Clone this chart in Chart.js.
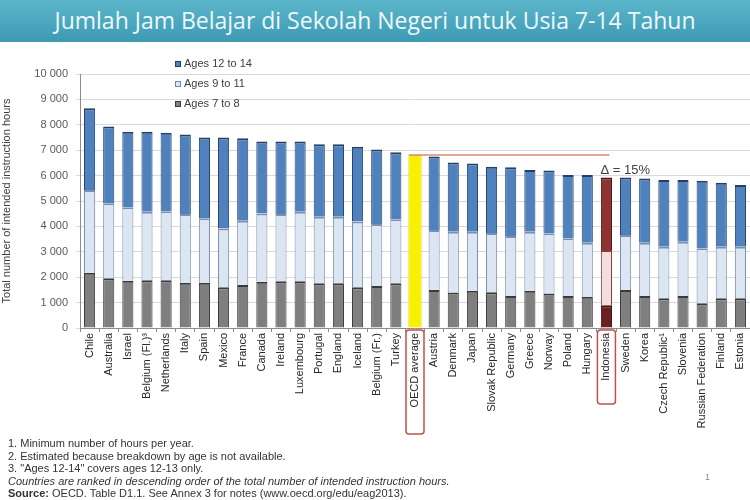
<!DOCTYPE html>
<html>
<head>
<meta charset="utf-8">
<script src="https://cdn.jsdelivr.net/npm/chart.js@4"></script>
<style>
  body { margin: 0; background: #fff; }
  #wrap { position: relative; width: 750px; height: 500px; overflow: hidden; }
  #banner {
    position: absolute; left: 0; top: 0; width: 750px; height: 42px; z-index: 2;
    background: linear-gradient(#5cb6cb, #3d9ab3);
    color: #eef8fb; font-family: "Open Sans", sans-serif; font-size: 23px;
    line-height: 40px; text-align: center; white-space: nowrap;
  }
  #chart { position: absolute; left: 0; top: 0; }
  #notes {
    position: absolute; left: 8px; top: 437px; z-index: 2;
    font-family: "Liberation Sans", Arial, sans-serif; font-size: 11px;
    line-height: 12.5px; color: #333; white-space: nowrap;
  }
  #notes i { font-style: italic; }
  #page { position: absolute; left: 705px; top: 472px; font: 9px "Liberation Sans", sans-serif; color: #888; }
</style>
</head>
<body>
<div id="wrap">
  <div id="banner">Jumlah Jam Belajar di Sekolah Negeri untuk Usia 7-14 Tahun</div>
  <canvas id="chart" width="750" height="500"></canvas>
  <div id="notes">
    1. Minimum number of hours per year.<br>
    2. Estimated because breakdown by age is not available.<br>
    3. "Ages 12-14" covers ages 12-13 only.<br>
    <i>Countries are ranked in descending order of the total number of intended instruction hours.</i><br>
    <b>Source:</b> OECD. Table D1.1. See Annex 3 for notes (www.oecd.org/edu/eag2013).
  </div>
  <div id="page">1</div>
</div>
<script>
const countries = ["Chile", "Australia", "Israel", "Belgium (Fl.)³", "Netherlands", "Italy", "Spain", "Mexico",
  "France", "Canada", "Ireland", "Luxembourg", "Portugal", "England", "Iceland", "Belgium (Fr.)", "Turkey",
  "OECD average", "Austria", "Denmark", "Japan", "Slovak Republic", "Germany", "Greece", "Norway", "Poland",
  "Hungary", "Indonesia", "Sweden", "Korea", "Czech Republic¹", "Slovenia", "Russian Federation", "Finland", "Estonia"];

const ages7to8 = [2180, 1960, 1860, 1880, 1880, 1780, 1780, 1600, 1690, 1820, 1840, 1840, 1760, 1760, 1600, 1650, 1760,
  null, 1500, 1400, 1470, 1410, 1260, 1470, 1360, 1260, 1230, 900, 1500, 1260, 1170, 1260, 970, 1170, 1170];
const ages9to11 = [3250, 2950, 2890, 2700, 2720, 2710, 2540, 2320, 2530, 2690, 2650, 2740, 2620, 2620, 2590, 2440, 2520,
  null, 2360, 2390, 2320, 2330, 2360, 2320, 2370, 2270, 2130, 2170, 2160, 2100, 2030, 2140, 2170, 2030, 2030];
const ages12to14 = [3220, 3020, 2980, 3150, 3090, 3130, 3180, 3580, 3250, 2830, 2850, 2760, 2850, 2850, 2950, 2940, 2640,
  null, 2890, 2730, 2690, 2610, 2710, 2430, 2470, 2490, 2660, 2860, 2270, 2530, 2630, 2430, 2660, 2520, 2430];
const oecdAverage = countries.map(c => (c === "OECD average" ? 6810 : null));

const yTicks = [0, 1000, 2000, 3000, 4000, 5000, 6000, 7000, 8000, 9000, 10000];
const deltaLabel = "Δ = 15%";

const oecdIdx = countries.indexOf("OECD average");
const indoIdx = countries.indexOf("Indonesia");

function pick(normal, indo) {
  return ctx => (ctx.dataIndex === indoIdx ? indo : normal);
}

const thin = { top: 2, left: 1, right: 1, bottom: 0 };

const extras = {
  id: "extras",
  afterDraw(chart) {
    const c = chart.ctx;
    const x = chart.scales.x, y = chart.scales.y;
    c.save();

    // legend
    const rows = [
      ["Ages 12 to 14", "#4f81bd", "#24406a"],
      ["Ages 9 to 11", "#dce6f2", "#6f86a8"],
      ["Ages 7 to 8", "#7f7f7f", "#3a3a3a"]
    ];
    c.font = "11px 'Liberation Sans', Arial, sans-serif";
    c.textBaseline = "middle";
    rows.forEach((r, i) => {
      const ry = 64 + i * 20;
      c.fillStyle = r[1];
      c.fillRect(175, ry - 3, 6, 6);
      c.strokeStyle = r[2];
      c.lineWidth = 1;
      c.strokeRect(175.5, ry - 2.5, 5, 5);
      c.fillStyle = "#404040";
      c.fillText(r[0], 184, ry);
    });

    // OECD level line to Indonesia
    const lineY = y.getPixelForValue(oecdAverage[oecdIdx]);
    const x0 = x.getPixelForValue(oecdIdx) - 6;
    const x1 = x.getPixelForValue(indoIdx) + 3;
    c.strokeStyle = "#d98a78";
    c.lineWidth = 1.5;
    c.beginPath();
    c.moveTo(x0, lineY);
    c.lineTo(x1, lineY);
    c.stroke();

    c.fillStyle = "#404040";
    c.font = "13px 'Liberation Sans', Arial, sans-serif";
    c.textBaseline = "alphabetic";
    c.fillText(deltaLabel, x1 - 9, lineY + 19);

    // red boxes round labels
    c.strokeStyle = "#c0504d";
    c.lineWidth = 1.5;
    [[oecdIdx, 104], [indoIdx, 74]].forEach(([idx, len]) => {
      const cx = x.getPixelForValue(idx);
      c.beginPath();
      c.roundRect(cx - 9, y.bottom + 2, 18, len, 3);
      c.stroke();
    });
    c.restore();
  }
};

new Chart(document.getElementById("chart"), {
  type: "bar",
  data: {
    labels: countries,
    datasets: [
      {
        label: "Ages 7 to 8",
        data: ages7to8,
        backgroundColor: pick("#7f7f7f", "#6a2020"),
        borderColor: pick("#3a3a3a", "#3d0f0f"),
        borderWidth: thin,
        borderSkipped: false
      },
      {
        label: "Ages 9 to 11",
        data: ages9to11,
        backgroundColor: pick("#dce6f2", "#f4dedd"),
        borderColor: pick("#7a90b2", "#8a3a3a"),
        borderWidth: thin,
        borderSkipped: false
      },
      {
        label: "Ages 12 to 14",
        data: ages12to14,
        backgroundColor: pick("#4f81bd", "#8f3331"),
        borderColor: pick("#24406a", "#4e1414"),
        borderWidth: thin,
        borderSkipped: false
      },
      {
        label: "OECD average",
        data: oecdAverage,
        backgroundColor: "#f7f000",
        borderColor: "#e8d800",
        borderWidth: 1,
        barPercentage: 0.7
      }
    ]
  },
  options: {
    responsive: false,
    animation: false,
    layout: { padding: { top: 74, right: 0, bottom: 0, left: 0 } },
    datasets: { bar: { categoryPercentage: 1, barPercentage: 0.58, grouped: false } },
    plugins: { legend: { display: false }, tooltip: { enabled: false } },
    scales: {
      x: {
        stacked: true,
        afterFit: s => { s.height = 172; s.paddingRight = 0; s.paddingLeft = 0; },
        grid: { offset: true, drawOnChartArea: false, tickLength: 4, color: "#8c8c8c" },
        border: { color: "#8c8c8c" },
        ticks: {
          autoSkip: false, maxRotation: 90, minRotation: 90, padding: 1,
          color: "#262626", font: { family: "'Liberation Sans', Arial, sans-serif", size: 11 }
        }
      },
      y: {
        stacked: true,
        min: yTicks[0],
        max: yTicks[yTicks.length - 1],
        afterFit: s => { s.width = 80; },
        afterBuildTicks: s => { s.ticks = yTicks.map(v => ({ value: v })); },
        grid: { color: "#dadada", tickLength: 4 },
        border: { color: "#8c8c8c" },
        ticks: {
          padding: 8, color: "#595959",
          font: { family: "'Liberation Sans', Arial, sans-serif", size: 11 },
          callback: v => String(v).replace(/\B(?=(\d{3})+(?!\d))/g, " ")
        },
        title: {
          display: true, text: "Total number of intended instruction hours", color: "#404040",
          padding: { top: 0, bottom: 0 },
          font: { family: "'Liberation Sans', Arial, sans-serif", size: 11 }
        }
      }
    }
  },
  plugins: [extras]
});
</script>
</body>
</html>
